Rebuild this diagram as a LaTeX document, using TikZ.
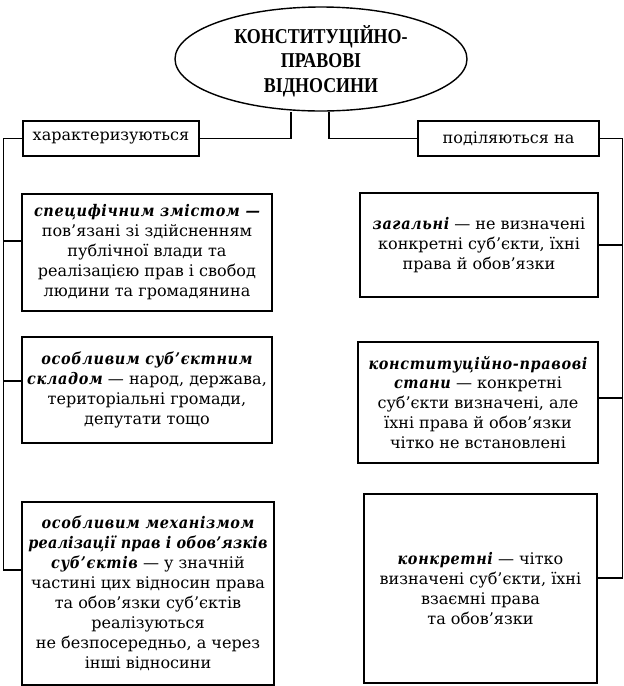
\documentclass[tikz,border=0pt]{standalone}
\usepackage{fontspec}
\setmainfont{DejaVu Serif}
\newfontfamily\headfont{Liberation Serif}[FakeStretch=0.85]
\newfontfamily\termfont{DejaVu Serif}[FakeStretch=0.9]
\usetikzlibrary{calc,shapes.geometric}
\newlength\px
\setlength\px{0.025cm}
\newcommand\term[2][4]{{\termfont\bfseries\itshape\addfontfeatures{LetterSpace=#1}#2}}
\tikzset{
  rootoval/.style={draw,ellipse,minimum width=292\px,minimum height=104\px,inner sep=0pt,align=center,
    text depth=-5.6pt,font=\headfont\bfseries\fontsize{15}{17.7}\selectfont},
  headbox/.style={draw,minimum height=35\px,inner sep=0pt,font=\fontsize{11.4}{14.2}\selectfont},
  textbox/.style={draw,inner sep=0pt,align=center,font=\fontsize{11.4}{14.2}\selectfont}
}

\begin{document}
\begin{tikzpicture}[x=\px,y=-\px,line width=1pt]
  \useasboundingbox (0,0) rectangle (624,686);
  \node[rootoval] (root) at (321,59) {КОНСТИТУЦІЙНО-\\ПРАВОВІ\\ВІДНОСИНИ};
  \node[headbox,minimum width=176\px] (char) at (111,138.5) {характеризуються};
  \node[headbox,minimum width=181\px] (div) at (508.5,138.5) {поділяються на};

  \node[textbox,minimum width=250\px,minimum height=117\px] (spec) at (147,252.5)
    {\term{специфічним змістом —}\\пов’язані зі здійсненням\\публічної влади та\\реалізацією прав і свобод\\людини та громадянина};
  \node[textbox,minimum width=250\px,minimum height=106\px] (subj) at (147,390)
    {\term{особливим суб’єктним}\\\term{складом} — народ, держава,\\територіальні громади,\\депутати тощо};
  \node[textbox,minimum width=252\px,minimum height=183\px] (mech) at (148,593.5)
    {\term{особливим механізмом}\\\term[1]{реалізації прав і обов’язків}\\\term{суб’єктів} — у значній\\частині цих відносин права\\та обов’язки суб’єктів\\реалізуються\\не безпосередньо, а через\\інші відносини};

  \node[textbox,minimum width=238\px,minimum height=104\px] (gen) at (479,245)
    {\term{загальні} — не визначені\\конкретні суб’єкти, їхні\\права й обов’язки};
  \node[textbox,minimum width=240\px,minimum height=121\px] (state) at (478,402.5)
    {\term{конституційно-правові}\\\term{стани} — конкретні\\суб’єкти визначені, але\\їхні права й обов’язки\\чітко не встановлені};
  \node[textbox,minimum width=233\px,minimum height=189\px] (conc) at (480.5,588.5)
    {\term{конкретні} — чітко\\визначені суб’єкти, їхні\\взаємні права\\та обов’язки};

  \draw (char.east) -| ($(root.south)+(-30,0)$);
  \draw (div.west) -| ($(root.south)+(8,0)$);
  \draw (char.west) -- ++(-19,0) |- ($(mech.west)+(0,-23.5)$);
  \draw ($(spec.west)+(0,-11.5)$) -- ++(-18,0);
  \draw ($(subj.west)+(0,-9)$) -- ++(-18,0);
  \draw (div.east) -- ++(23,0) |- ($(conc.east)+(0,-10.5)$);
  \draw (gen.east) -- ++(24,0);
  \draw ($(state.east)+(0,-4.5)$) -- ++(24,0);
\end{tikzpicture}
\end{document}
